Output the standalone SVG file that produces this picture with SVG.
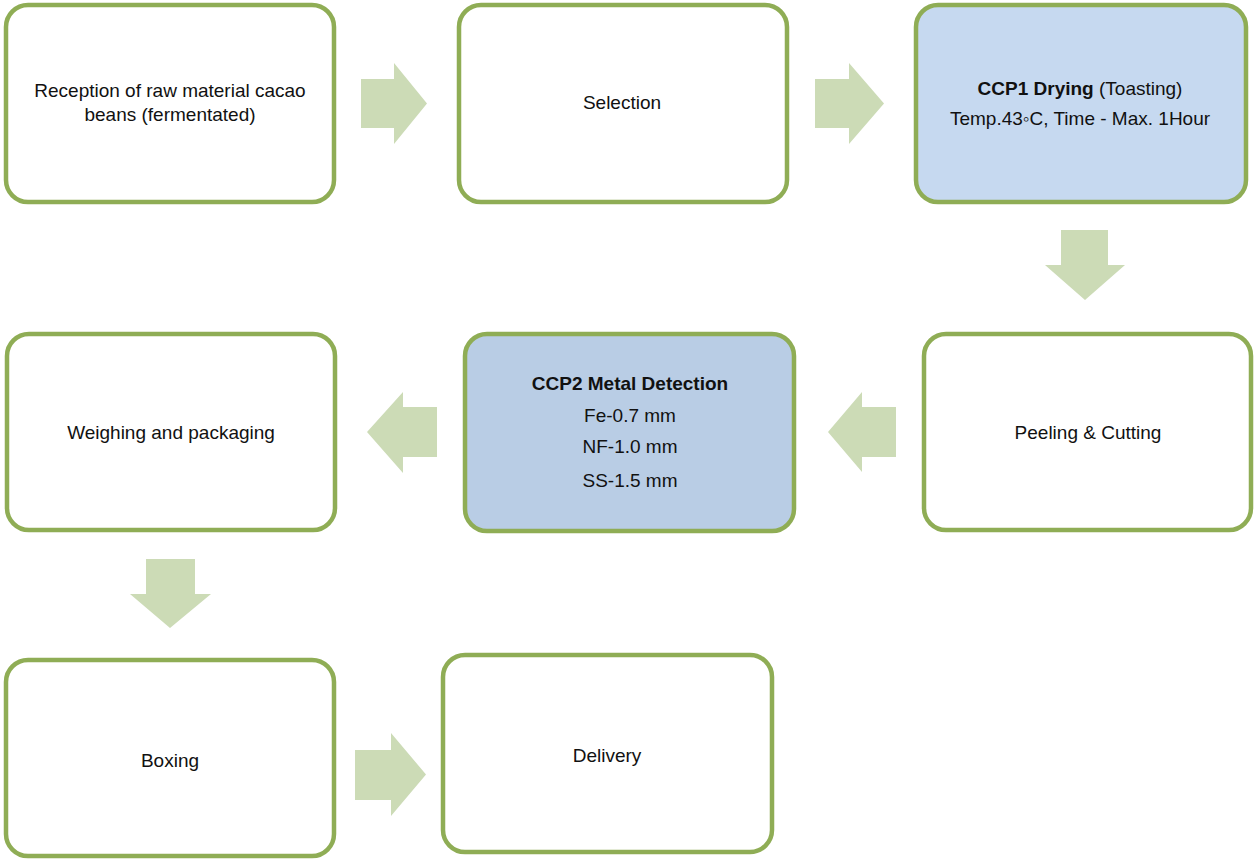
<svg xmlns="http://www.w3.org/2000/svg" width="1254" height="859" viewBox="0 0 1254 859">
<style>
.box{fill:#ffffff;stroke:#8FAD55;stroke-width:4.5}
.ccp1{fill:#C6D9F0}
.ccp2{fill:#B9CDE5}
.arr{fill:#CCDBB6}
text{font-family:"Liberation Sans",Arial,sans-serif;font-size:19px;fill:#111;text-anchor:middle}
.b{font-weight:bold}
</style>
<rect width="1254" height="859" fill="#ffffff"/>
<g id="connectors">
<polygon class="arr" points="361,79 394,79 394,63 427,103.5 394,144 394,128 361,128"/>
<polygon class="arr" points="815,79 849,79 849,63 884,103.5 849,144 849,128 815,128"/>
<polygon class="arr" points="1061,230 1108,230 1108,265 1125,265 1085,300 1045,265 1061,265"/>
<polygon class="arr" points="896,407 862,407 862,392 828,432 862,472 862,457 896,457"/>
<polygon class="arr" points="437,407 403,407 403,392 367,432 403,473 403,457 437,457"/>
<polygon class="arr" points="146,559 195,559 195,594 211,594 170,628 130,594 146,594"/>
<polygon class="arr" points="355,750 391,750 391,733 426,774.5 391,816 391,800 355,800"/>
</g>
<g id="n1">
<rect class="box" x="6" y="5" width="328" height="197" rx="22"/>
<text x="170" y="97">Reception of raw material cacao</text>
<text x="170" y="121">beans (fermentated)</text>
</g>
<g id="n2">
<rect class="box" x="459" y="5" width="328" height="197" rx="22"/>
<text x="622" y="109">Selection</text>
</g>
<g id="n3">
<rect class="box ccp1" x="916" y="5" width="330" height="197" rx="22"/>
<text x="1080" y="95"><tspan class="b">CCP1 Drying</tspan> (Toasting)</text>
<text x="1080" y="125">Temp.43◦C, Time - Max. 1Hour</text>
</g>
<g id="n4">
<rect class="box" x="924" y="334" width="327" height="196" rx="22"/>
<text x="1088" y="439">Peeling &amp; Cutting</text>
</g>
<g id="n5">
<rect class="box ccp2" x="465" y="334" width="329" height="197" rx="22"/>
<text class="b" x="630" y="390">CCP2 Metal Detection</text>
<text x="630" y="422">Fe-0.7 mm</text>
<text x="630" y="453">NF-1.0 mm</text>
<text x="630" y="487">SS-1.5 mm</text>
</g>
<g id="n6">
<rect class="box" x="7" y="334" width="328" height="196" rx="22"/>
<text x="171" y="439">Weighing and packaging</text>
</g>
<g id="n7">
<rect class="box" x="6" y="660" width="328" height="196" rx="22"/>
<text x="170" y="767">Boxing</text>
</g>
<g id="n8">
<rect class="box" x="443" y="655" width="329" height="197" rx="22"/>
<text x="607" y="762">Delivery</text>
</g>
</svg>
